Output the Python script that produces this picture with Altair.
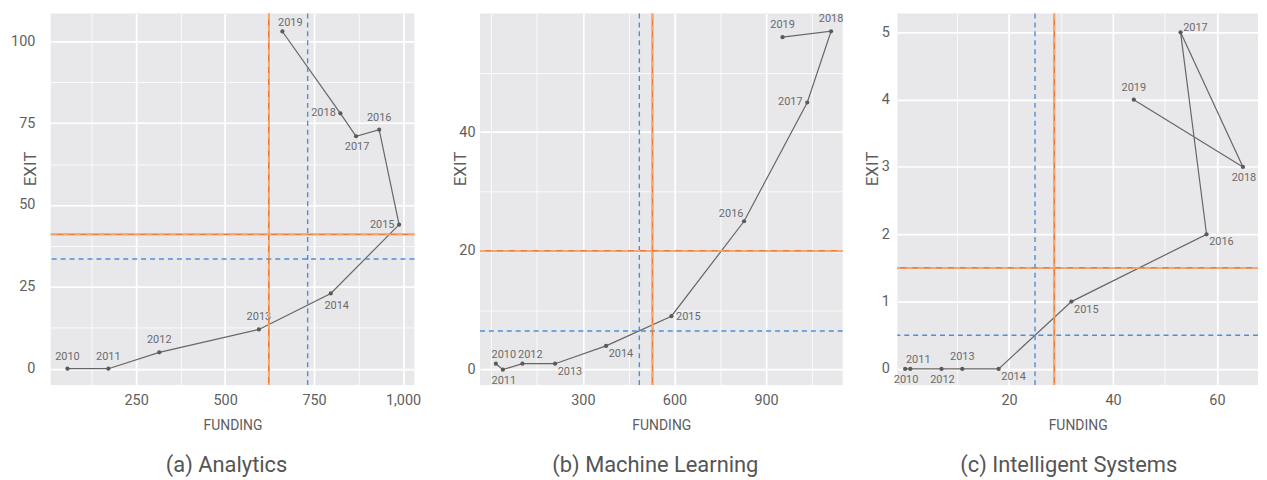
import altair as alt
import pandas as pd

YEARS = list(range(2010, 2020))

# ---------------- (a) Analytics ----------------
A_FUNDING = [57, 172, 315, 595, 797, 989, 933, 868, 824, 661]
A_EXIT = [0, 0, 5, 12, 23, 44, 73, 71, 78, 103]
A_LABEL_POS = ["N", "N", "N", "N", "SSE", "W", "N", "S", "W", "NE"]
A_ORANGE_FUNDING, A_ORANGE_EXIT = 623, 41
A_BLUE_FUNDING, A_BLUE_EXIT = 732, 33.5
A_X_DOMAIN, A_Y_DOMAIN = [10, 1032], [-5, 108.5]
A_X_GRID = [125, 250, 375, 500, 625, 750, 875, 1000]
A_X_MAJOR = [250, 500, 750, 1000]
A_Y_GRID = [0, 12.5, 25, 37.5, 50, 62.5, 75, 87.5, 100]
A_Y_MAJOR = [0, 25, 50, 75, 100]

# ---------------- (b) Machine Learning ----------------
B_FUNDING = [15, 38, 102, 209, 376, 590, 828, 1035, 1113, 954]
B_EXIT = [1, 0, 1, 1, 4, 9, 25, 45, 57, 56]
B_LABEL_POS = ["NE", "S", "NE", "SE", "SE", "E", "NW", "W", "N", "N"]
B_ORANGE_FUNDING, B_ORANGE_EXIT = 528, 20
B_BLUE_FUNDING, B_BLUE_EXIT = 485, 6.5
B_X_DOMAIN, B_Y_DOMAIN = [-37, 1151], [-2.6, 60]
B_X_GRID = [0, 150, 300, 450, 600, 750, 900, 1050]
B_X_MAJOR = [300, 600, 900]
B_Y_GRID = [0, 10, 20, 30, 40, 50]
B_Y_MAJOR = [0, 20, 40]

# ---------------- (c) Intelligent Systems ----------------
C_FUNDING = [0, 1, 7, 11, 18, 32, 58, 53, 65, 44]
C_EXIT = [0, 0, 0, 0, 0, 1, 2, 5, 3, 4]
C_LABEL_POS = ["S", "NE", "S", "N", "SE", "SE", "SE", "ENE", "S", "N"]
C_ORANGE_FUNDING, C_ORANGE_EXIT = 28.7, 1.5
C_BLUE_FUNDING, C_BLUE_EXIT = 25, 0.5
C_X_DOMAIN, C_Y_DOMAIN = [-1.5, 67.9], [-0.24, 5.28]
C_X_GRID = [10, 20, 30, 40, 50, 60]
C_X_MAJOR = [20, 40, 60]
C_Y_GRID = [0, 0.5, 1, 1.5, 2, 2.5, 3, 3.5, 4, 4.5, 5]
C_Y_MAJOR = [0, 1, 2, 3, 4, 5]

# ---------------- styling ----------------
FONT = "Roboto"
BG = "#E8E8EA"
TEXT = "#5e5e5e"
LINE = "#666666"
POINT = "#5a5a5a"
ORANGE = "#EE7D31"
ORANGE_LIGHT = "#F6A870"
BLUE = "#4A8FDA"
PLOT_H = 374

# label placement -> pixel offset (dx, dy)
PLACEMENT = {
    "N": (0, -12), "NE": (8, -9), "ENE": (15, -4), "E": (17, 1),
    "SE": (15, 8), "SSE": (6, 13), "S": (1, 11), "W": (-17, 0),
    "NW": (-13, -7),
}


def cond_width(major):
    return {"condition": {"test": f"indexof({major}, datum.value) >= 0", "value": 1.7},
            "value": 0.8}


def label_expr(major):
    return f"indexof({major}, datum.value) >= 0 ? format(datum.value, ',') : ''"


def panel(funding, exit_, pos, ox, oy, bx, by, xdom, ydom, xgrid, xmaj, ygrid, ymaj,
          width, caption, cap_dx, ytitle_x, ylab_pad):
    df = pd.DataFrame({"funding": funding, "exit": exit_, "year": YEARS, "pos": pos})
    xs = alt.Scale(domain=xdom, nice=False, zero=False)
    ys = alt.Scale(domain=ydom, nice=False, zero=False)
    xaxis = alt.Axis(values=xgrid, title="FUNDING", labelExpr=label_expr(xmaj),
                     gridWidth=cond_width(xmaj), labelPadding=20,
                     labelBaseline="alphabetic", titleBaseline="alphabetic", titleY=45,
                     labelOverlap=False, labelFlush=False)
    yaxis = alt.Axis(values=ygrid, title="EXIT", labelExpr=label_expr(ymaj),
                     gridWidth=cond_width(ymaj), labelPadding=ylab_pad,
                     titleBaseline="alphabetic", titleX=ytitle_x, titleY=156,
                     labelOverlap=False, labelFlush=False)
    base = alt.Chart(df)
    line = base.mark_line(color=LINE, strokeWidth=1.2).encode(
        x=alt.X("funding:Q", scale=xs, axis=xaxis),
        y=alt.Y("exit:Q", scale=ys, axis=yaxis),
        order=alt.Order("year:Q"),
    )
    pts = base.mark_circle(size=18, color=POINT, opacity=1).encode(
        x="funding:Q", y="exit:Q")
    texts = []
    for key in sorted(set(pos)):
        dx, dy = PLACEMENT[key]
        texts.append(
            base.transform_filter(alt.datum.pos == key)
            .mark_text(dx=dx, dy=dy, font=FONT, fontSize=11, color="#6a6a6a",
                       align="center", baseline="middle")
            .encode(x="funding:Q", y="exit:Q", text="year:N")
        )
    vb = alt.Chart(pd.DataFrame({"funding": [bx]})).mark_rule(
        color=BLUE, strokeWidth=1.4, strokeDash=[5, 4]).encode(x="funding:Q")
    hb = alt.Chart(pd.DataFrame({"exit": [by]})).mark_rule(
        color=BLUE, strokeWidth=1.4, strokeDash=[5, 4]).encode(y="exit:Q")
    vo = alt.Chart(pd.DataFrame({"funding": [ox]})).mark_rule(
        color=ORANGE, strokeWidth=1.8).encode(x="funding:Q")
    vo2 = alt.Chart(pd.DataFrame({"funding": [ox]})).mark_rule(
        color=ORANGE_LIGHT, strokeWidth=1.8, strokeDash=[6, 6]).encode(x="funding:Q")
    ho = alt.Chart(pd.DataFrame({"exit": [oy]})).mark_rule(
        color=ORANGE, strokeWidth=1.8).encode(y="exit:Q")
    ho2 = alt.Chart(pd.DataFrame({"exit": [oy]})).mark_rule(
        color=ORANGE_LIGHT, strokeWidth=1.8, strokeDash=[6, 6]).encode(y="exit:Q")
    return alt.layer(line, pts, *texts, vb, hb, vo, vo2, ho, ho2).properties(
        width=width, height=PLOT_H,
        view=alt.ViewBackground(fill=BG, strokeWidth=0),
        title=alt.TitleParams(caption, orient="bottom", anchor="middle", font=FONT,
                              fontSize=22, fontWeight="normal", color="#555555",
                              offset=22, dx=cap_dx),
    )


def spacer(w):
    return alt.Chart(pd.DataFrame({"v": [0]})).mark_point(opacity=0).encode(
        x=alt.X("v:Q", axis=None), y=alt.Y("v:Q", axis=None)
    ).properties(width=w, height=PLOT_H,
                 view=alt.ViewBackground(fillOpacity=0, strokeOpacity=0, strokeWidth=0))


pa = panel(A_FUNDING, A_EXIT, A_LABEL_POS, A_ORANGE_FUNDING, A_ORANGE_EXIT,
           A_BLUE_FUNDING, A_BLUE_EXIT, A_X_DOMAIN, A_Y_DOMAIN, A_X_GRID, A_X_MAJOR,
           A_Y_GRID, A_Y_MAJOR, 366, "(a) Analytics", -6, -15, 16)
pb = panel(B_FUNDING, B_EXIT, B_LABEL_POS, B_ORANGE_FUNDING, B_ORANGE_EXIT,
           B_BLUE_FUNDING, B_BLUE_EXIT, B_X_DOMAIN, B_Y_DOMAIN, B_X_GRID, B_X_MAJOR,
           B_Y_GRID, B_Y_MAJOR, 365, "(b) Machine Learning", -6, -15, 5)
pc = panel(C_FUNDING, C_EXIT, C_LABEL_POS, C_ORANGE_FUNDING, C_ORANGE_EXIT,
           C_BLUE_FUNDING, C_BLUE_EXIT, C_X_DOMAIN, C_Y_DOMAIN, C_X_GRID, C_X_MAJOR,
           C_Y_GRID, C_Y_MAJOR, 363, "(c) Intelligent Systems", -9, -20, 8)

chart = alt.hconcat(spacer(43), pa, spacer(66), pb, spacer(55), pc,
                    spacing=0, bounds="flush").properties(
    padding={"left": 0, "top": 3, "right": 0, "bottom": 0},
    background="white",
).configure_view(strokeWidth=0).configure_axis(
    labelFont=FONT, labelFontSize=14.5, labelColor=TEXT,
    titleFont=FONT, titleFontWeight="normal", titleColor=TEXT,
    gridColor="white", domain=False, ticks=False,
).configure_axisX(titleFontSize=14).configure_axisY(titleFontSize=17)

chart.save("out.html", embed_options={"renderer": "svg", "actions": False})
